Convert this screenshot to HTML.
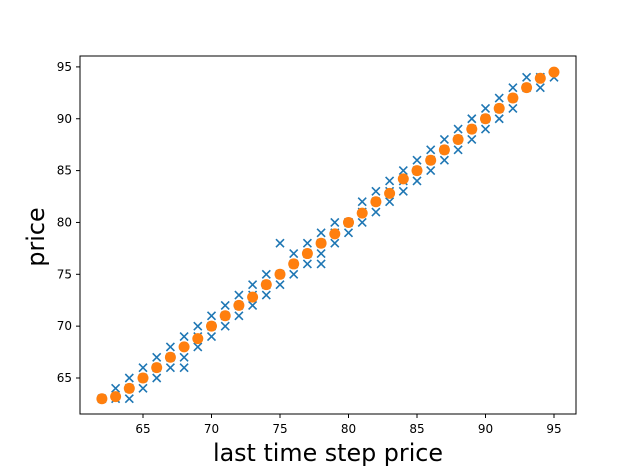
<!DOCTYPE html>
<html><head><meta charset="utf-8"><style>
body{margin:0;background:#fff;font-family:"DejaVu Sans","Liberation Sans",sans-serif}
</style></head><body>
<svg width="640" height="466" xmlns="http://www.w3.org/2000/svg">
<g id="marks"></g>
<rect x="80" y="56" width="496" height="358" fill="none" stroke="#000" stroke-width="1"/>
<g id="axes" font-size="12" fill="#000"></g>
<text x="328" y="461" text-anchor="middle" font-size="23.8">last time step price</text>
<text transform="translate(44,237) rotate(-90)" text-anchor="middle" font-size="23.8">price</text>
</svg>
<script>
const xTicks=[65,70,75,80,85,90,95];
const yTicks=[65,70,75,80,85,90,95];
const blueX=[62,63,63,64,64,64,65,65,65,66,66,66,67,67,67,68,68,68,69,69,69,70,70,70,71,71,71,72,72,72,73,73,73,74,74,74,75,75,75,76,76,76,77,77,77,78,78,78,78,79,79,79,80,80,80,81,81,81,82,82,82,83,83,83,84,84,84,85,85,85,86,86,86,87,87,87,88,88,88,89,89,89,90,90,90,91,91,91,92,92,92,93,93,94,94,94,95];
const blueY=[63,63,64,63,64,65,64,65,66,65,66,67,66,67,68,66,67,69,68,69,70,69,70,71,70,71,72,71,72,73,72,73,74,73,74,75,74,75,78,75,76,77,76,77,78,76,77,78,79,78,79,80,79,80,80,80,81,82,81,82,83,82,83,84,83,84,85,84,85,86,85,86,87,86,87,88,87,88,89,88,89,90,89,90,91,90,91,92,91,92,93,93,94,93,94,94,94];
const orangeX=[62,63,64,65,66,67,68,69,70,71,72,73,74,75,76,77,78,79,80,81,82,83,84,85,86,87,88,89,90,91,92,93,94,95];
const orangeY=[63,63.2,64,65,66,67,68,68.8,70,71,72,72.8,74,75,76,77,78,78.9,80,80.9,82,82.8,84.2,85,86,87,88,89,90,91,92,93,93.9,94.5];
const sx=v=>143+(v-65)*13.7;
const sy=v=>378-(v-65)*10.37;
const NS='http://www.w3.org/2000/svg';
const marks=document.getElementById('marks');
const axes=document.getElementById('axes');
for(let i=0;i<blueX.length;i++){
 const x=sx(blueX[i]),y=sy(blueY[i]);
 const p=document.createElementNS(NS,'path');
 p.setAttribute('d',`M${x-4},${y-4}L${x+4},${y+4}M${x-4},${y+4}L${x+4},${y-4}`);
 p.setAttribute('stroke','#1f77b4');p.setAttribute('stroke-width','1.6');
 
 
 marks.appendChild(p);
}
for(let i=0;i<orangeX.length;i++){
 const c=document.createElementNS(NS,'circle');
 c.setAttribute('cx',sx(orangeX[i]));c.setAttribute('cy',sy(orangeY[i]));c.setAttribute('r','5.5');c.setAttribute('fill','#ff7f0e');
 
 
 marks.appendChild(c);
}
xTicks.forEach(t=>{
 const x=sx(t);
 const l=document.createElementNS(NS,'line');
 l.setAttribute('x1',x);l.setAttribute('x2',x);l.setAttribute('y1',414);l.setAttribute('y2',418);l.setAttribute('stroke','#000');
 
 
 axes.appendChild(l);
 const tx=document.createElementNS(NS,'text');
 tx.setAttribute('x',x);tx.setAttribute('y',433);tx.setAttribute('text-anchor','middle');tx.textContent=t;
 
 
 axes.appendChild(tx);
});
yTicks.forEach(t=>{
 const y=sy(t);
 const l=document.createElementNS(NS,'line');
 l.setAttribute('x1',76);l.setAttribute('x2',80);l.setAttribute('y1',y);l.setAttribute('y2',y);l.setAttribute('stroke','#000');
 
 
 axes.appendChild(l);
 const tx=document.createElementNS(NS,'text');
 tx.setAttribute('x',72);tx.setAttribute('y',y+4);tx.setAttribute('text-anchor','end');tx.textContent=t;
 
 
 axes.appendChild(tx);
});
</script>
</body></html>
